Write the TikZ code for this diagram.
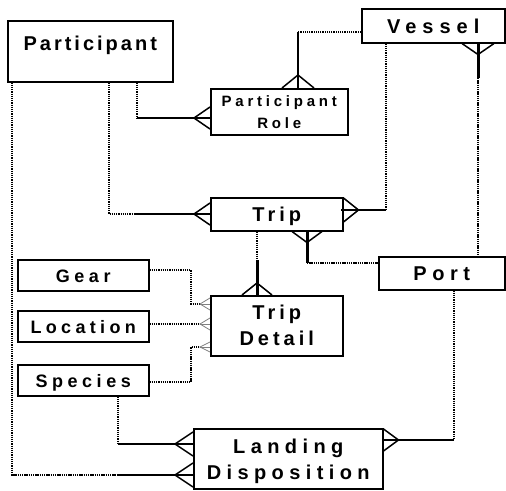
\documentclass[tikz,border=0pt]{standalone}
\usepackage{fontspec}
\newfontfamily\erfont{Liberation Sans}
\usetikzlibrary{calc}
% crow's foot: edge point, apex offset, half spread of the fan
\newcommand\crow[4][conn]{\draw[#1] ($(#2)+(#4)$) -- ($(#2)+(#3)$) -- ($(#2)-(#4)$);}
\begin{document}
\begin{tikzpicture}[x=1pt,y=-1pt,
  entity/.style={draw, line width=1.5pt, inner sep=0pt, anchor=north west, align=center},
  bigtext/.style={font=\erfont\bfseries\fontsize{20}{26}\selectfont\addfontfeature{LetterSpace=#1}},
  midtext/.style={font=\erfont\bfseries\fontsize{18}{24}\selectfont\addfontfeature{LetterSpace=#1}},
  smalltext/.style={font=\erfont\bfseries\fontsize{15}{22}\selectfont\addfontfeature{LetterSpace=#1}},
  oneline/.style={text height=14.5pt, text depth=0pt},
  conn/.style={line width=1.5pt},
  thickline/.style={line width=3pt},
  dotline/.style={line width=1.8pt, dash pattern=on 1.3pt off 0.9pt},
  minor/.style={line width=0.8pt, gray}]
\useasboundingbox (0,0) rectangle (506,490);

% entities
\node[entity, bigtext=15, minimum width=165pt, text height=30pt, text depth=31pt] (P) at (7,20) {Participant};
\node[entity, bigtext=30, oneline, minimum width=143pt, minimum height=34pt] (V) at (361,8) {Vessel};
\node[entity, smalltext=25, minimum width=137pt, minimum height=46pt] (PR) at (210,88) {Participant\\Role};
\node[entity, bigtext=20, oneline, minimum width=132pt, minimum height=33pt] (T) at (210,197) {Trip};
\node[entity, bigtext=28, oneline, minimum width=126pt, minimum height=33pt] (Po) at (378,256) {Port};
\node[entity, bigtext=20, minimum width=132pt, minimum height=60pt] (TD) at (210,295) {Trip\\Detail};
\node[entity, midtext=25, oneline, minimum width=131pt, minimum height=31pt] (G) at (17,259) {Gear};
\node[entity, midtext=24, oneline, minimum width=131pt, minimum height=31pt] (L) at (17,310) {Location};
\node[entity, midtext=25, oneline, minimum width=131pt, minimum height=31pt] (S) at (17,364) {Species};
\node[entity, bigtext=27, minimum width=189pt, minimum height=60pt] (LD) at (193,428) {\rule{0pt}{20.5pt}Landing\\Disposition};

% bend points of the relationship lines
\coordinate (c1) at (137,118);
\coordinate (c2) at (298,32);
\coordinate (c3) at (478,78);
\coordinate (c4) at (386,210);
\coordinate (c5) at (109,214);
\coordinate (c5b) at (135,214);
\coordinate (c6) at (307,263);
\coordinate (c7) at (257,260);
\coordinate (c8) at (191,270);
\coordinate (c8b) at (191,304);
\coordinate (c9) at (191,324);
\coordinate (c10) at (191,382);
\coordinate (c10b) at (191,347);
\coordinate (c11) at (118,444);
\coordinate (c12) at (12,475);
\coordinate (c12b) at (118,475);
\coordinate (c13) at (454,440);

% points where the lines meet the entities
\coordinate (e1) at (c1 -| PR.west);
\coordinate (e2) at (c2 |- PR.north);
\coordinate (e3) at (c3 |- V.south);
\coordinate (e4) at (c4 -| T.east);
\coordinate (e5) at (c5 -| T.west);
\coordinate (e6) at (c6 |- T.south);
\coordinate (e7) at (c7 |- TD.north);
\coordinate (e8) at (c8b -| TD.west);
\coordinate (e9) at (c9 -| TD.west);
\coordinate (e10) at (c10b -| TD.west);
\coordinate (e11) at (c11 -| LD.west);
\coordinate (e12) at (c12b -| LD.west);
\coordinate (e13) at (c13 -| LD.east);

% Participant - Participant Role
\draw[dotline] (P.south -| c1) -- (c1);
\draw[conn] (c1) -- (e1);
\crow{e1}{-16,0}{0,11}

% Vessel - Participant Role
\draw[dotline] (V.west |- c2) -- (c2);
\draw[conn] (c2) -- (e2);
\crow{e2}{0,-13}{16,0}

% Vessel - Port
\draw[thickline] (e3) -- (c3);
\draw[dotline] (c3) -- (c3 |- Po.north);
\crow{e3}{0,11}{16,0}

% Vessel - Trip
\draw[dotline] (V.south -| c4) -- (c4);
\draw[conn] (c4) -- ($(e4)+(-3,0)$);
\crow{e4}{15,0}{0,12}

% Participant - Trip
\draw[dotline] (P.south -| c5) -- (c5) -- (c5b);
\draw[conn] (c5b) -- (e5);
\crow{e5}{-16,0}{0,11}

% Trip - Port
\draw[thickline] (e6) -- (c6);
\draw[dotline] (c6) -- (c6 -| Po.west);
\crow{e6}{0,11}{15,0}

% Trip - Trip Detail
\draw[dotline] (T.south -| c7) -- (c7);
\draw[thickline] (c7) -- (e7);
\crow{e7}{0,-12}{15,0}

% Gear, Location, Species - Trip Detail
\draw[dotline] (G.east |- c8) -- (c8) -- (c8b) -- ($(e8)+(-10,0)$);
\draw[minor] ($(e8)+(-10,0)$) -- (e8);
\crow[minor]{e8}{-10,0}{0,6}
\draw[dotline] (L.east |- c9) -- ($(e9)+(-10,0)$);
\draw[minor] ($(e9)+(-10,0)$) -- (e9);
\crow[minor]{e9}{-10,0}{0,6}
\draw[dotline] (S.east |- c10) -- (c10) -- (c10b) -- ($(e10)+(-10,0)$);
\draw[minor] ($(e10)+(-10,0)$) -- (e10);
\crow[minor]{e10}{-10,0}{0,5}

% Species - Landing Disposition
\draw[dotline] (S.south -| c11) -- (c11);
\draw[conn] (c11) -- (e11);
\crow{e11}{-18,0}{0,12}

% Participant - Landing Disposition
\draw[dotline] (P.south -| c12) -- (c12) -- (c12b);
\draw[conn] (c12b) -- (e12);
\crow{e12}{-18,0}{0,12}

% Port - Landing Disposition
\draw[dotline] (Po.south -| c13) -- (c13);
\draw[conn] (c13) -- (e13);
\crow{e13}{15,0}{0,11}
\end{tikzpicture}
\end{document}
